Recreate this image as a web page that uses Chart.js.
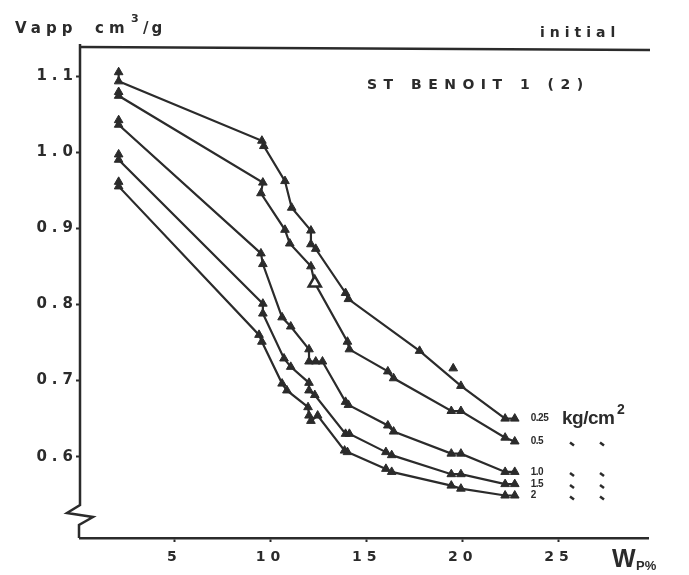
<!DOCTYPE html>
<html>
<head>
<meta charset="utf-8">
<script src="https://cdn.jsdelivr.net/npm/chart.js@4.4.1/dist/chart.umd.min.js"></script>
<style>
  html, body { margin: 0; padding: 0; background: #fff; }
  canvas { display: block; }
</style>
</head>
<body>
<canvas id="chart" width="689" height="575"></canvas>
<script>
// Volume apparent vs teneur en eau, St Benoit 1 (2), etat initial.
// Une courbe par contrainte appliquee (kg/cm2), mesures doublees.

var pressures = ["0.25", "0.5", "1.0", "1.5", "2"];

var wp025 = [2.1, 2.1, 9.55, 9.65, 10.75, 11.1, 12.1, 12.1, 12.35, 13.9, 14.05, 17.75, 19.9, 22.2, 22.7];
var v025 = [1.105, 1.093, 1.015, 1.008, 0.962, 0.927, 0.897, 0.879, 0.873, 0.815, 0.807, 0.739, 0.693, 0.650, 0.650];

var wp05 = [2.1, 2.1, 9.6, 9.5, 10.75, 11.0, 12.1, 12.3, 14.0, 14.1, 16.1, 16.4, 19.4, 19.9, 22.2, 22.7];
var v05 = [1.079, 1.074, 0.960, 0.946, 0.898, 0.880, 0.850, 0.828, 0.751, 0.741, 0.712, 0.703, 0.660, 0.660, 0.625, 0.620];

var wp10 = [2.1, 2.1, 9.5, 9.6, 10.6, 11.05, 12.0, 12.0, 12.35, 12.7, 13.9, 14.05, 16.1, 16.4, 19.4, 19.9, 22.2, 22.7];
var v10 = [1.042, 1.036, 0.867, 0.853, 0.783, 0.771, 0.741, 0.725, 0.725, 0.725, 0.672, 0.668, 0.641, 0.633, 0.604, 0.604, 0.580, 0.580];

var wp15 = [2.1, 2.1, 9.6, 9.6, 10.7, 11.05, 12.0, 12.0, 12.3, 13.9, 14.1, 16.0, 16.3, 19.4, 19.9, 22.2, 22.7];
var v15 = [0.997, 0.990, 0.801, 0.788, 0.729, 0.718, 0.697, 0.687, 0.681, 0.630, 0.630, 0.606, 0.602, 0.577, 0.577, 0.564, 0.564];

var wp2 = [2.1, 2.1, 9.4, 9.55, 10.6, 10.85, 11.95, 12.0, 12.1, 12.45, 13.85, 14.0, 16.0, 16.3, 19.4, 19.9, 22.2, 22.7];
var v2 = [0.961, 0.955, 0.760, 0.751, 0.696, 0.687, 0.665, 0.654, 0.647, 0.654, 0.608, 0.606, 0.584, 0.580, 0.562, 0.558, 0.549, 0.549];

// point isole hors courbe (0.25) et point a symbole ouvert (0.5)
var strayWp = [19.5];
var strayV = [0.716];
var openWp = [12.3];
var openV = [0.828];

var xTicks = [5, 10, 15, 20, 25];
var yTicks = [0.6, 0.7, 0.8, 0.9, 1.0, 1.1];

var INK = "#2b2b2b";

function pts(xs, ys) {
  return xs.map(function (x, i) { return { x: x, y: ys[i] }; });
}

function isOpen(ctx) {
  var r = ctx.raw;
  return r && r.x === openWp[0] && r.y === openV[0];
}

var series = [[wp025, v025], [wp05, v05], [wp10, v10], [wp15, v15], [wp2, v2]];

var datasets = series.map(function (s, i) {
  return {
    label: pressures[i],
    data: pts(s[0], s[1]),
    showLine: true,
    borderColor: INK,
    borderWidth: 2.2,
    tension: 0,
    pointStyle: "triangle",
    pointRadius: function (ctx) { return isOpen(ctx) ? 7 : 5; },
    pointBackgroundColor: function (ctx) { return isOpen(ctx) ? "#fff" : INK; },
    pointBorderColor: INK,
    pointBorderWidth: function (ctx) { return isOpen(ctx) ? 2.5 : 1; },
  };
});

datasets.push({
  label: "isole",
  data: pts(strayWp, strayV),
  showLine: false,
  pointStyle: "triangle",
  pointRadius: 5,
  pointBackgroundColor: INK,
  pointBorderColor: INK,
  pointBorderWidth: 1,
});

var decor = {
  id: "decor",
  beforeDraw: function (chart) {
    chart.ctx.letterSpacing = "5px";
  },
  afterDraw: function (chart) {
    var ctx = chart.ctx;
    var a = chart.chartArea;
    var xs = chart.scales.x;
    var ys = chart.scales.y;

    function txt(s, px, py, font, ls, align) {
      ctx.font = font;
      ctx.letterSpacing = ls + "px";
      ctx.textAlign = align || "left";
      ctx.textBaseline = "middle";
      ctx.fillText(s, px, py);
    }

    ctx.save();
    ctx.strokeStyle = INK;
    ctx.fillStyle = INK;
    ctx.lineWidth = 2.5;
    ctx.lineJoin = "miter";

    // cadre haut
    ctx.beginPath();
    ctx.moveTo(a.left, a.top - 1);
    ctx.lineTo(a.right + 2, a.top + 2);
    ctx.stroke();

    // axe vertical avec coupure
    ctx.beginPath();
    ctx.moveTo(a.left, a.top - 4);
    ctx.lineTo(a.left, a.bottom - 33);
    ctx.lineTo(a.left - 13, a.bottom - 25);
    ctx.lineTo(a.left + 13, a.bottom - 21);
    ctx.lineTo(a.left - 1, a.bottom - 13);
    ctx.lineTo(a.left - 1, a.bottom);
    ctx.stroke();

    var B = "bold ";
    var DV = "px 'DejaVu Sans'";
    var LS = "px 'Liberation Sans'";

    // titre axe y
    txt("Vapp", 15, 29, B + 15 + DV, 5);
    txt("cm", 95, 29, B + 15 + DV, 5);
    txt("3", 131, 19, B + 11 + DV, 0);
    txt("/g", 143, 29, B + 15 + DV, 3);

    txt("initial", 540, 33, B + 14 + DV, 5);
    txt("ST BENOIT 1 (2)", 367, 85, B + 14 + DV, 6.5);

    // titre axe x
    txt("W", 612, 560, B + 25 + LS, 0);
    txt("P%", 636, 566, B + 13 + LS, 0);

    // etiquettes des courbes
    chart.data.datasets.slice(0, pressures.length).forEach(function (ds, i) {
      var last = ds.data[ds.data.length - 1];
      var px = xs.getPixelForValue(last.x) + 16;
      var py = ys.getPixelForValue(last.y);
      txt(pressures[i], px, py, B + 10 + LS, -0.5);
      if (i === 0) {
        txt("kg/cm", 562, py, B + 19 + LS, -0.5);
        txt("2", 617, py - 8, B + 14 + LS, 0);
      } else {
        ctx.lineWidth = 2.5;
        [572, 602].forEach(function (dx) {
          ctx.beginPath();
          ctx.moveTo(dx - 2, py + 1);
          ctx.lineTo(dx + 2, py + 4);
          ctx.stroke();
        });
      }
    });

    ctx.restore();
  },
};

new Chart(document.getElementById("chart"), {
  type: "scatter",
  data: { datasets: datasets },
  plugins: [decor],
  options: {
    responsive: false,
    animation: false,
    layout: { padding: { top: 48, right: 41, left: 0, bottom: 0 } },
    plugins: { legend: { display: false }, tooltip: { enabled: false } },
    scales: {
      x: {
        type: "linear",
        min: 0.09,
        max: 29.63,
        afterFit: function (s) { s.height = 37; },
        afterBuildTicks: function (s) {
          s.ticks = xTicks.map(function (v) { return { value: v }; });
        },
        border: { display: true, color: INK, width: 2.5 },
        grid: { display: true, drawOnChartArea: false, drawTicks: true, tickLength: 4, tickColor: INK, tickWidth: 2 },
        ticks: {
          color: INK,
          padding: 7,
          maxRotation: 0,
          font: { family: "'DejaVu Sans'", size: 14, weight: "bold" },
          callback: function (v) { return String(v); },
        },
      },
      y: {
        type: "linear",
        min: 0.4932,
        max: 1.1368,
        afterFit: function (s) { s.width = 80; },
        afterBuildTicks: function (s) {
          s.ticks = yTicks.map(function (v) { return { value: v }; });
        },
        border: { display: false },
        grid: { display: true, drawOnChartArea: false, drawTicks: true, tickLength: 4, tickColor: INK, tickWidth: 2 },
        ticks: {
          color: INK,
          padding: -2,
          font: { family: "'DejaVu Sans'", size: 15, weight: "bold" },
          callback: function (v) { return v.toFixed(1); },
        },
      },
    },
  },
});
</script>
</body>
</html>
